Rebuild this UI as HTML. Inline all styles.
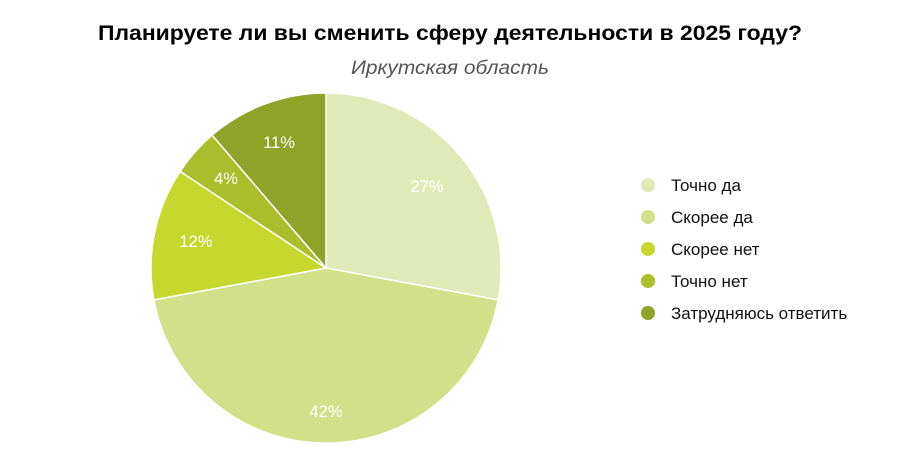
<!DOCTYPE html>
<html><head><meta charset="utf-8"><style>
body{margin:0;background:#fff;}
svg{display:block;font-family:"Liberation Sans",sans-serif;}
</style></head><body>
<svg width="900" height="467" viewBox="0 0 900 467">
<text x="450" y="40" text-anchor="middle" font-size="21" font-weight="bold" fill="#000" textLength="704" lengthAdjust="spacingAndGlyphs">Планируете ли вы сменить сферу деятельности в 2025 году?</text>
<text x="450" y="74" text-anchor="middle" font-size="19" font-style="italic" fill="#555" textLength="198" lengthAdjust="spacingAndGlyphs">Иркутская область</text>
<g stroke="#fff" stroke-width="1.5">
<path d="M326,268 L326,93 A175,175 0 0 1 498.1,299.9 Z" fill="#e0eab8"/>
<path d="M326,268 L498.1,299.9 A175,175 0 0 1 153.9,299.9 Z" fill="#d2e08a"/>
<path d="M326,268 L153.9,299.9 A175,175 0 0 1 180.1,171.4 Z" fill="#c6d82e"/>
<path d="M326,268 L180.1,171.4 A175,175 0 0 1 212.1,135.1 Z" fill="#a9be2a"/>
<path d="M326,268 L212.1,135.1 A175,175 0 0 1 326,93 Z" fill="#8fa328"/>
</g>
<g fill="#fff" font-size="16.5" text-anchor="middle">
<text x="427" y="192">27%</text>
<text x="326" y="417">42%</text>
<text x="196" y="247">12%</text>
<text x="226" y="184">4%</text>
<text x="279" y="148">11%</text>
</g>
<g font-size="17" fill="#111">
<circle cx="648" cy="185" r="7" fill="#e0eab8"/><text x="671" y="191">Точно да</text>
<circle cx="648" cy="217" r="7" fill="#d2e08a"/><text x="671" y="223">Скорее да</text>
<circle cx="648" cy="249" r="7" fill="#c6d82e"/><text x="671" y="255">Скорее нет</text>
<circle cx="648" cy="281" r="7" fill="#a9be2a"/><text x="671" y="287">Точно нет</text>
<circle cx="648" cy="313" r="7" fill="#8fa328"/><text x="671" y="319">Затрудняюсь ответить</text>
</g>
</svg>
</body></html>
